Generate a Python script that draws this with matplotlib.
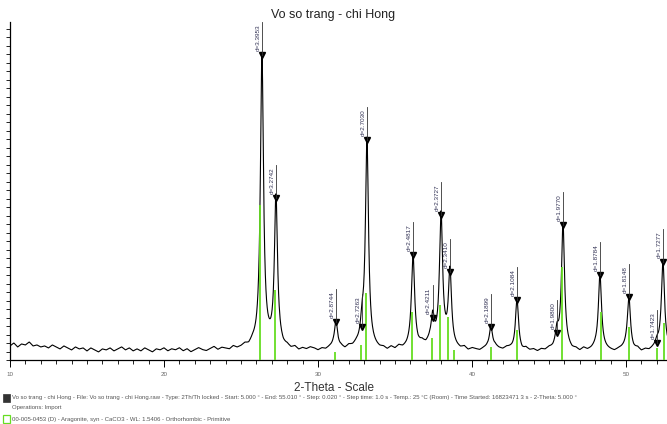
import numpy as np
import matplotlib
matplotlib.use("Agg")
import matplotlib.pyplot as plt
from matplotlib.patches import Rectangle

plt.rcParams['font.family'] = ['Liberation Sans', 'DejaVu Sans']

# ---------------- data ----------------
title = "Vo so trang - chi Hong"
x_label = "2-Theta - Scale"
x_ticks = [10, 20, 30, 40, 50]

# background counts, 0.25 deg steps from 10 deg
bg_start = 10.0
bg_step = 0.25
bg_counts = [140, 170, 130, 160, 150, 180, 140, 150, 130,
             140, 120, 150, 130, 110, 140, 120, 100,
             130, 110, 120, 90, 120, 100, 80, 110,
             100, 120, 90, 110, 130, 100, 120, 90,
             110, 90, 120, 100, 80, 110, 100, 120,
             90, 110, 100, 120, 90, 110, 80, 100,
             120, 100, 90, 110, 130, 100, 120, 110,
             100, 130, 110, 120, 140, 120, 150, 140,
             160, 150, 140, 130, 120, 140, 110, 120,
             100, 120, 90, 110, 100, 120, 110, 90,
             110, 100, 120, 130, 110, 120, 100, 130,
             120, 140, 130, 150, 130, 120, 110, 100,
             110, 90, 120, 100, 130, 110, 120, 140,
             150, 130, 160, 140, 170, 150, 160, 150,
             160, 140, 120, 110, 100, 120, 90, 110,
             100, 90, 110, 120, 100, 130, 110, 100,
             120, 110, 90, 100, 80, 110, 90, 100,
             80, 100, 90, 110, 100, 120, 130, 120,
             110, 90, 100, 80, 110, 90, 100, 120,
             130, 110, 100, 90, 80, 100, 110, 120,
             100, 90, 110, 80, 100, 90, 110, 120,
             130, 120, 110]

# observed peaks: 2-theta, top counts, d-label
peak_pos = [26.36, 27.27, 31.17, 32.86, 33.18, 36.17, 37.45, 37.99,
            38.57, 41.23, 42.92, 45.52, 45.91, 48.31, 50.19, 52.01, 52.40]
peak_top = [3050, 1620, 380, 330, 2200, 1050, 420, 1450,
            880, 330, 600, 270, 1350, 850, 630, 170, 980]
peak_lbl = ["d=3.3953", "d=3.2742", "d=2.8744", "d=2.7263", "d=2.7030",
            "d=2.4817", "d=2.4211", "d=2.3727", "d=2.3410", "d=2.1899",
            "d=2.1084", "d=1.9800", "d=1.9770", "d=1.8784", "d=1.8148",
            "d=1.7423", "d=1.7277"]

# reference pattern (Aragonite) sticks: 2-theta, counts
ref_pos = [26.21, 27.22, 31.13, 32.78, 33.13, 36.11, 37.39, 37.90,
           38.43, 38.85, 41.21, 42.89, 45.87, 48.38, 50.22, 52.03, 52.45]
ref_int = [1550, 700, 80, 150, 670, 480, 220, 550,
           430, 100, 130, 300, 930, 480, 330, 120, 370]

info_lines = [
    "Vo so trang - chi Hong - File: Vo so trang - chi Hong.raw - Type: 2Th/Th locked - Start: 5.000 \u00b0 - End: 55.010 \u00b0 - Step: 0.020 \u00b0 - Step time: 1.0 s - Temp.: 25 \u00b0C (Room) - Time Started: 16823471 3 s - 2-Theta: 5.000 \u00b0",
    "Operations: Import",
    "00-005-0453 (D) - Aragonite, syn - CaCO3 - WL: 1.5406 - Orthorhombic - Primitive",
]

# ---------------- build profile ----------------
bg_theta = bg_start + bg_step * np.arange(len(bg_counts))
theta = np.arange(10.0, 52.75, 0.02)
bg = np.interp(theta, bg_theta, bg_counts)
profile = bg.copy()
w = 0.12
for c, top in zip(peak_pos, peak_top):
    amp = top - np.interp(c, bg_theta, bg_counts)
    profile += amp / (1 + ((theta - c) / w) ** 2)

# ---------------- figure ----------------
W, H = 667, 424
fig = plt.figure(figsize=(W / 100, H / 100), dpi=100)
ax = fig.add_axes([10 / W, 64 / H, 657 / W, 338 / H])
xmax = 10 + 657 / 15.4
ax.set_xlim(10, xmax)
ax.set_ylim(0, 3380)

ax.plot(theta, profile, color='black', lw=0.8, zorder=3)
ax.vlines(ref_pos, 0, ref_int, color='#66dd22', lw=1.3, zorder=4)

for c, top, lbl in zip(peak_pos, peak_top, peak_lbl):
    ax.plot([c], [top], marker='v', color='black', ms=4, zorder=5, clip_on=False)
    ax.plot([c, c], [top, top + 330], color='#333333', lw=0.6, zorder=5, clip_on=False)
    ax.annotate(lbl, xy=(c, top + 40), xytext=(-1.2, 0), textcoords='offset points',
                rotation=90, ha='right', va='bottom', fontsize=4.6, color='#333355',
                zorder=6, annotation_clip=False)

for s in ['top', 'right']:
    ax.spines[s].set_visible(False)
ax.spines['left'].set_linewidth(0.9)
ax.spines['bottom'].set_linewidth(0.9)

ax.set_xticks(x_ticks)
ax.set_xticklabels([str(t) for t in x_ticks], fontsize=4.5, color='#666666')
ax.set_xticks(np.arange(10, 53, 1), minor=True)
ax.tick_params(axis='x', which='major', length=5, width=0.7, pad=4)
ax.tick_params(axis='x', which='minor', length=3, width=0.6)
ax.set_yticks(np.arange(0, 3380, 85))
ax.set_yticklabels([])
ax.tick_params(axis='y', length=3, width=0.6)

fig.text(0.5, 1 - 15 / H, title, ha='center', va='center', fontsize=9, color='#222222')
fig.text(0.5, 1 - 388 / H, x_label, ha='center', va='center', fontsize=8.5, color='#333333')

ys = [398, 408, 419]
for y, line in zip(ys, info_lines):
    fig.text(12 / W, 1 - y / H, line, ha='left', va='center', fontsize=4.3, color='#555555')

fig.patches.append(Rectangle((3 / W, 1 - 402 / H), 7 / W, 8 / H, transform=fig.transFigure,
                             facecolor='#333333', edgecolor='#333333', lw=0.5))
fig.patches.append(Rectangle((3 / W, 1 - 423 / H), 7 / W, 8 / H, transform=fig.transFigure,
                             facecolor='white', edgecolor='#66dd22', lw=0.9))

fig.savefig("out.png", dpi=100)
